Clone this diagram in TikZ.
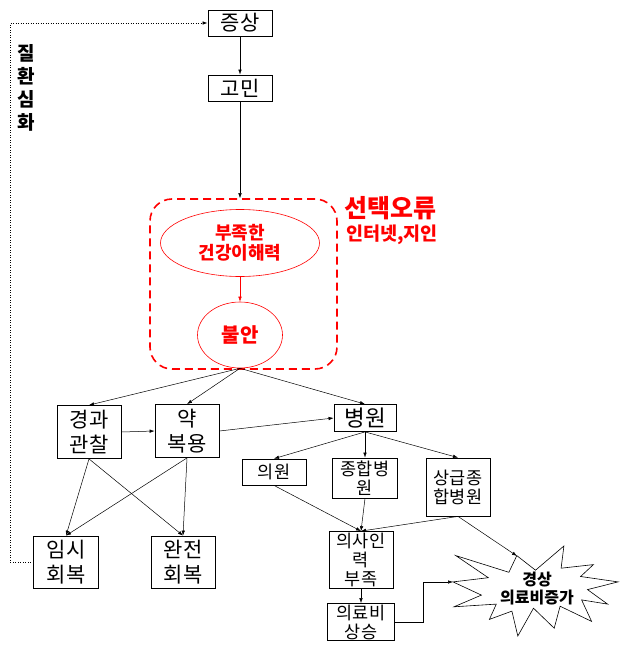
\documentclass[tikz,border=0pt]{standalone}
\usepackage{fontspec}
\setmainfont{Noto Sans CJK KR}
\usepackage{tikz}
\usetikzlibrary{calc, shapes.geometric, arrows.meta, positioning}

\tikzset{
    bigbox/.style={draw, line width=0.8pt, inner sep=0pt, align=center,
        font=\fontsize{21}{25}\selectfont},
    smallbox/.style={draw, line width=0.8pt, inner sep=0pt, align=center,
        font=\fontsize{17.5}{19}\selectfont},
    redtext/.style={text=red, font=\bfseries\fontsize{18}{20}\selectfont, align=center},
    link/.style={->, line width=0.5pt}
}

\begin{document}
\begin{tikzpicture}[x=1pt, y=-1pt, >={Latex[length=5pt,width=3.5pt]}]

    \useasboundingbox (0,0) rectangle (629,653);

    % =================================================================
    % 1. COORDINATES OF THE STAR TARGETS
    % =================================================================
    \coordinate (starL) at (453, 582);
    \coordinate (starT) at (517, 556);

    % =================================================================
    % 2. TOP BOXES
    % =================================================================
    \node[bigbox, minimum width=64pt, minimum height=26pt] (symptom) at (240, 23) {증상};
    \node[bigbox, minimum width=64pt, minimum height=26pt] (worry) at (240, 88) {고민};

    % =================================================================
    % 3. RED DASHED AREA (SELECTION ERROR)
    % =================================================================
    \node[draw=red, dashed, dash pattern=on 8pt off 5pt, line width=1.6pt,
          rounded corners=22pt, minimum width=187pt, minimum height=170pt]
          (choice) at (243.5, 284) {};
    \node[draw=red, ellipse, line width=0.6pt, minimum width=159pt, minimum height=67pt,
          inner sep=0pt, redtext] (literacy) at (240, 243) {부족한\\건강이해력};
    \node[draw=red, ellipse, line width=0.6pt, minimum width=85pt, minimum height=66pt,
          inner sep=0pt, redtext, font=\bfseries\fontsize{20}{22}\selectfont] (anxiety) at (240, 335) {불안};

    \node[text=red, font=\bfseries\fontsize{25}{28}\selectfont] (errlabel) at (390, 208) {선택오류};
    \node[text=red, font=\bfseries\fontsize{18.5}{20}\selectfont] (errsub) at (392, 235) {인터넷,지인};

    % =================================================================
    % 4. MIDDLE AND BOTTOM BOXES
    % =================================================================
    \node[bigbox, minimum width=64pt, minimum height=53pt] (watch) at (89, 432) {경과\\관찰};
    \node[bigbox, minimum width=64pt, minimum height=53pt] (drug) at (187, 431) {약\\복용};
    \node[bigbox, minimum width=65pt, minimum height=52pt] (temp) at (66, 562) {임시\\회복};
    \node[bigbox, minimum width=64pt, minimum height=52pt] (full) at (183, 562) {완전\\회복};
    \node[bigbox, minimum width=62pt, minimum height=27pt,
          font=\fontsize{22.5}{24}\selectfont] (hosp) at (365, 418) {병원};

    \node[smallbox, minimum width=64pt, minimum height=26pt] (clinic) at (274, 472) {의원};
    \node[smallbox, minimum width=65pt, minimum height=40pt] (general) at (365, 478) {종합병\\원};
    \node[smallbox, minimum width=64pt, minimum height=58pt] (tertiary) at (458, 487) {상급종\\합병원};
    \node[smallbox, minimum width=64pt, minimum height=57pt] (doctor) at (361, 560) {의사인\\력\\부족};
    \node[smallbox, minimum width=67pt, minimum height=37pt] (cost) at (361, 622) {의료비\\상승};

    % 질환심화 (vertical text)
    \node[font=\bfseries\fontsize{19}{23}\selectfont, align=center] (worse) at (26, 88) {질\\환\\심\\화};

    % =================================================================
    % 5. STAR (EXPLOSION)
    % =================================================================
    \draw[line width=0.6pt] (535.5,570.2) -- (516.8,555.6) -- (508.9,572.3) -- (455.8,555.6)
        -- (488.3,577.7) -- (453,581.9) -- (481.4,595.1) -- (454.0,606.8) -- (496.3,604.1)
        -- (489.4,619.4) -- (511.9,611.1) -- (517.8,636) -- (533.5,608.2) -- (554.2,628.2)
        -- (560.1,606.2) -- (591.6,621.4) -- (581.6,599.9) -- (607.6,604.1) -- (587.5,589.6)
        -- (618,581.9) -- (580.6,576.5) -- (593.4,564.6) -- (561.1,568.2) -- (563.9,546) -- cycle;
    \node[font=\bfseries\fontsize{16}{18}\selectfont, align=center] (rise) at (537, 589) {경상\\의료비증가};

    % =================================================================
    % 6. CONNECTORS
    % =================================================================
    \draw[link] (symptom) -- (worry);
    \draw[link] (worry) -- (worry |- choice.north);
    \draw[link, red] (literacy) -- (anxiety);

    \draw[link] (anxiety.south) -- (watch.north);
    \draw[link] (anxiety.south) -- (drug.north);
    \draw[link] (anxiety.south) -- (hosp.north);
    \draw[link] (watch.east) -- (drug.west);
    \draw[link] (drug.east) -- (hosp.west);

    \draw[link] (watch.south) -- (temp.north);
    \draw[link] (watch.south) -- (full.north);
    \draw[link] (drug.south) -- (temp.north);
    \draw[link] (drug.south) -- (full.north);

    \draw[link] (hosp.south) -- (clinic.north);
    \draw[link] (hosp.south) -- (general.north);
    \draw[link] (hosp.south) -- (tertiary.north);
    \draw[link] (clinic.south) -- (doctor.north);
    \draw[link] (general.south) -- (doctor.north);
    \draw[link] (tertiary.south) -- (doctor.north);
    \draw[link] (tertiary.south) -- (starT);
    \draw[link] (doctor) -- (cost);
    \draw[link] (cost.east) -- ++(28,0) |- (starL);

    % feedback loop (dotted)
    \draw[link, dotted, line width=0.7pt] (temp.west) -- ++(-23,0) |- (symptom.west);

\end{tikzpicture}
\end{document}
